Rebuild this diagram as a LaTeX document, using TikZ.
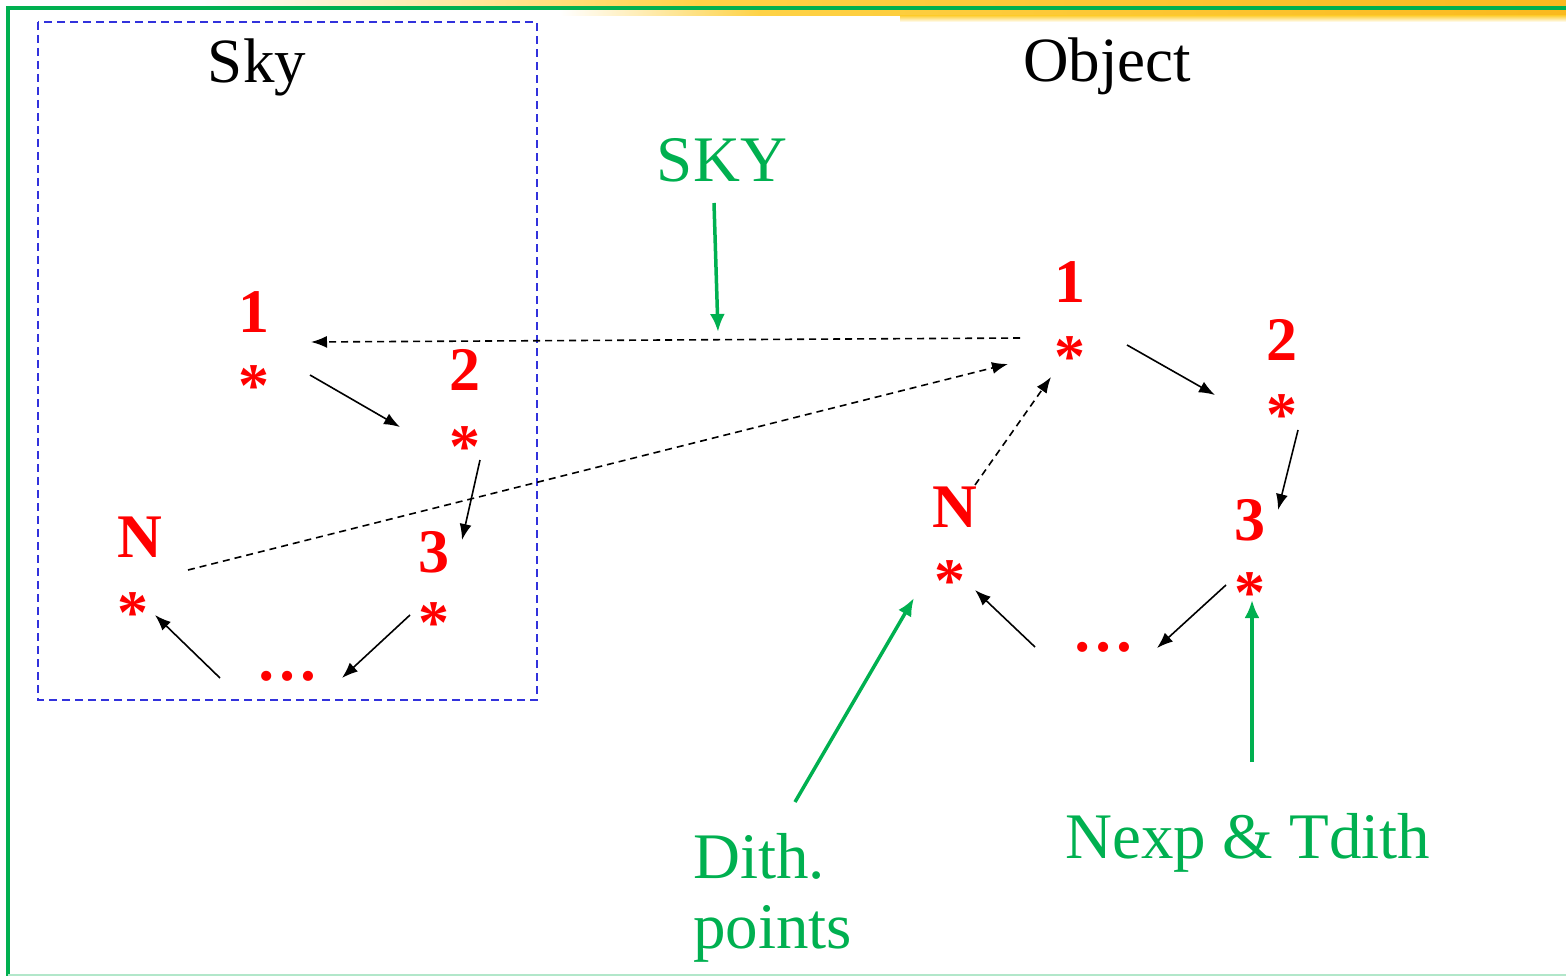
\documentclass[tikz,border=0pt]{standalone}
\usepackage{fontspec}
\setmainfont{Liberation Serif}
\usetikzlibrary{arrows.meta}
\definecolor{lgreen}{RGB}{0,176,80}
\definecolor{lred}{RGB}{255,0,0}
\definecolor{lblue}{RGB}{50,50,220}
\definecolor{lyel}{RGB}{250,185,30}
\definecolor{lyel2}{RGB}{254,210,70}
\tikzset{
  num/.style={anchor=base,text=lred,font=\fontsize{62}{62}\selectfont\bfseries,inner sep=0pt},
  star/.style={anchor=base,text=lred,font=\fontsize{62}{62}\selectfont\bfseries,inner sep=0pt},
  title/.style={anchor=base,text=black,font=\fontsize{63}{63}\selectfont,inner sep=0pt},
  gtext/.style={anchor=base,text=lgreen,font=\fontsize{65}{65}\selectfont,inner sep=0pt},
  arr/.style={line width=1.6pt,-{Latex[length=16pt,width=12pt]}},
  darr/.style={line width=1.6pt,dash pattern=on 7pt off 5pt,-{Latex[length=16pt,width=12pt]}},
  garr/.style={draw=lgreen,line width=3.5pt,-{Latex[length=18pt,width=15pt]}},
}
\begin{document}
\begin{tikzpicture}[x=1pt,y=-1pt]
\useasboundingbox (0,0) rectangle (1566,976);
% yellow band
\shade[left color=white,right color=lyel2] (200,0) rectangle (700,8);
\shade[left color=lyel2,right color=lyel] (700,0) rectangle (1566,8);
\shade[left color=white,right color=lyel2] (560,8) rectangle (760,16);
\shade[left color=lyel2,right color=lyel] (760,8) rectangle (1566,16);
\shade[top color=lyel2,bottom color=white] (900,16) rectangle (1566,22);
% green frame
\draw[lgreen,line width=4pt] (8,976) -- (8,8) -- (1566,8);
\draw[lgreen!30,line width=1.5pt] (8,975) -- (1566,975);
% blue dashed box
\draw[lblue,line width=1.8pt,dash pattern=on 8pt off 5pt] (38,22) rectangle (537,700);
% titles
\node[title] (tsky) at (257,83) {Sky};
\node[title] (tobj) at (1107,82) {Object};
\node[gtext] (gsky) at (722,182) {SKY};
\node[gtext,anchor=base west] (gdith) at (693,878) {Dith.};
\node[gtext,anchor=base west] (gpts) at (693,948) {points};
\node[gtext] (gnexp) at (1248,858) {Nexp \& Tdith};
% sky loop
\node[num] (s1) at (254,332) {1};
\node[star] (s1s) at (254,406) {*};
\node[num] (s2) at (465,390) {2};
\node[star] (s2s) at (465,467) {*};
\node[num] (s3) at (434,572) {3};
\node[star] (s3s) at (434,643) {*};
\node[num] (sN) at (140,557) {N};
\node[star] (sNs) at (133,633) {*};
\node[num] (sd) at (287,680) {…};
% object loop
\node[num] (o1) at (1070,302) {1};
\node[star] (o1s) at (1070,377) {*};
\node[num] (o2) at (1282,360) {2};
\node[star] (o2s) at (1282,435) {*};
\node[num] (o3) at (1250,540) {3};
\node[star] (o3s) at (1250,613) {*};
\node[num] (oN) at (955,527) {N};
\node[star] (oNs) at (950,601) {*};
\node[num] (od) at (1103,651) {…};
% connector end points
\coordinate (a1) at (310,375); \coordinate (a2) at (400,427);
\coordinate (b1) at (480,460); \coordinate (b2) at (462,540);
\coordinate (c1) at (410,615); \coordinate (c2) at (342,678);
\coordinate (d1) at (220,678); \coordinate (d2) at (155,615);
\coordinate (e1) at (1127,345); \coordinate (e2) at (1215,395);
\coordinate (f1) at (1298,430); \coordinate (f2) at (1278,510);
\coordinate (g1) at (1226,585); \coordinate (g2) at (1157,648);
\coordinate (h1) at (1035,647); \coordinate (h2) at (975,590);
\coordinate (i1) at (1020,338); \coordinate (i2) at (311,342);
\coordinate (j1) at (188,570); \coordinate (j2) at (1008,364);
\coordinate (k1) at (975,485); \coordinate (k2) at (1051,377);
\coordinate (l1) at (714,203); \coordinate (l2) at (718,332);
\coordinate (m1) at (795,802); \coordinate (m2) at (914,598);
\coordinate (n1) at (1252,762); \coordinate (n2) at (1252,600);
% arrows
\draw[arr] (a1) -- (a2);
\draw[arr] (b1) -- (b2);
\draw[arr] (c1) -- (c2);
\draw[arr] (d1) -- (d2);
\draw[arr] (e1) -- (e2);
\draw[arr] (f1) -- (f2);
\draw[arr] (g1) -- (g2);
\draw[arr] (h1) -- (h2);
\draw[darr] (i1) -- (i2);
\draw[darr] (j1) -- (j2);
\draw[darr] (k1) -- (k2);
\draw[garr] (l1) -- (l2);
\draw[garr] (m1) -- (m2);
\draw[garr] (n1) -- (n2);
\end{tikzpicture}
\end{document}
